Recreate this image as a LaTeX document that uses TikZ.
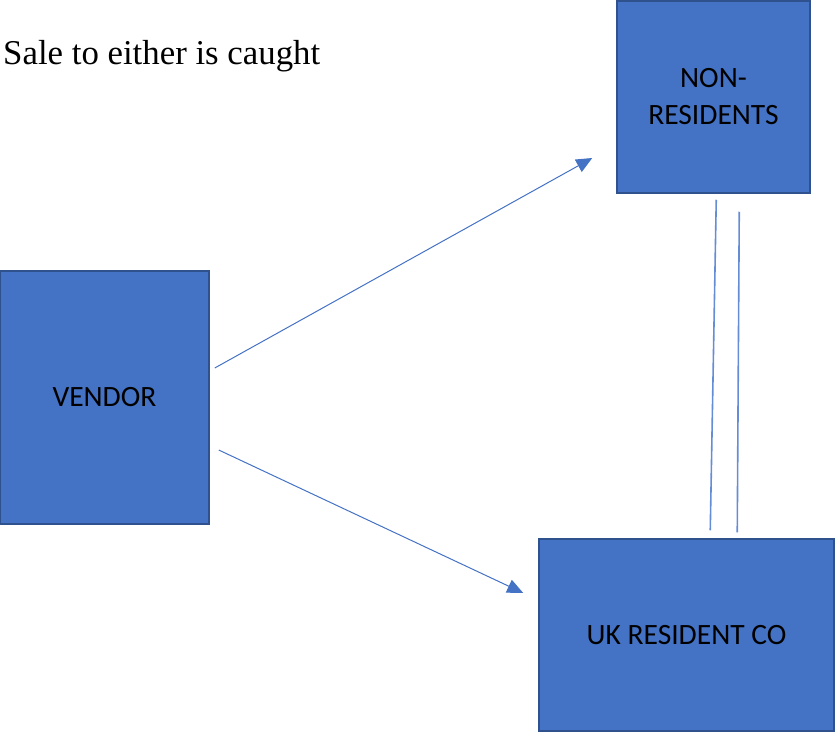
\documentclass[tikz,border=0pt]{standalone}
\usepackage{fontspec}
\setmainfont{Liberation Serif}
\newfontfamily\boxfont{Carlito}
\usetikzlibrary{positioning, arrows.meta, calc}
\definecolor{boxblue}{RGB}{68, 114, 196}
\definecolor{edgeblue}{RGB}{47, 82, 143}
\definecolor{linkblue}{RGB}{68, 114, 196}
\definecolor{pairblue}{RGB}{100, 140, 215}

\tikzset{
    party/.style={draw=edgeblue, fill=boxblue, line width=1.5pt, inner sep=0pt,
        font=\boxfont\fontsize{29.5}{37}\selectfont, text=black, align=center},
    sale/.style={linkblue, line width=1pt, -{Triangle[length=16pt, width=14pt]}},
    pair/.style={pairblue, line width=1.6pt}
}

\begin{document}
\begin{tikzpicture}[x=1pt, y=-1pt]
    \useasboundingbox (0,0) rectangle (837,733);
    % Heading
    \node[anchor=base west, inner sep=0pt, font=\fontsize{34.8}{40}\selectfont] (head) at (3,65) {Sale to either is caught};
    % The three parties
    \node[party, minimum width=209pt, minimum height=253pt] (vendor) at (104.5,397.5) {VENDOR};
    \node[party, minimum width=193pt, minimum height=192pt] (nonres) at (713.5,97) {NON-\\RESIDENTS};
    \node[party, minimum width=295pt, minimum height=192pt] (ukco) at (686.5,635) {UK RESIDENT CO};
    % Sales
    \draw[sale] ($(vendor.east)+(5,-29.5)$) -- ($(nonres.west)+(-24,61)$);
    \draw[sale] ($(vendor.east)+(9,52.5)$) -- ($(ukco.west)+(-15,-42)$);
    % Link between the buyers
    \draw[pair] ($(nonres.south west)+(100,6)$) -- ($(ukco.north west)+(172,-8)$);
    \draw[pair] ($(nonres.south west)+(123,18)$) -- ($(ukco.north west)+(199,-6)$);
\end{tikzpicture}
\end{document}
